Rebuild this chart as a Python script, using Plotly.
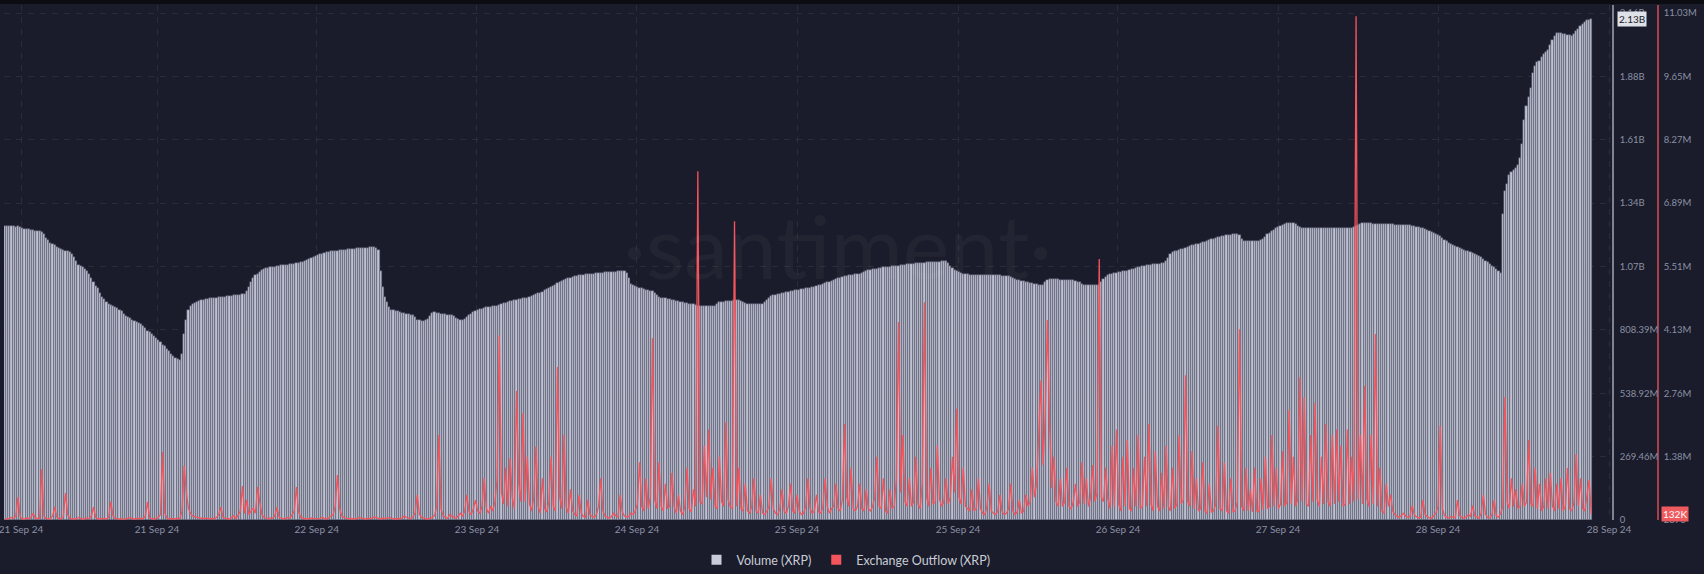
import pandas as pd
import plotly.graph_objects as go

# ---------------- data ----------------
start_time = "2024-09-21 05:15"
bar_interval = "15min"

# Volume (XRP), millions, one value per 15-minute bar
volume_m = [
    1250, 1250, 1252, 1250, 1250, 1248, 1250, 1246, 1240, 1238, 1236, 1236, 1234, 1232, 1230, 1230,
    1228, 1225, 1215, 1200, 1190, 1178, 1172, 1168, 1162, 1158, 1152, 1148, 1146, 1142, 1138, 1132,
    1120, 1100, 1085, 1080, 1075, 1068, 1060, 1045, 1030, 1010, 995, 985, 965, 950, 938, 928,
    920, 915, 910, 905, 900, 895, 888, 878, 868, 862, 858, 852, 846, 840, 836, 832,
    825, 815, 805, 798, 790, 782, 775, 765, 755, 745, 738, 728, 718, 708, 698, 690,
    685, 680, 705, 790, 850, 892, 910, 918, 922, 926, 930, 934, 936, 938, 940, 942,
    944, 945, 946, 948, 948, 950, 950, 952, 953, 954, 955, 956, 957, 958, 960, 962,
    975, 990, 1010, 1030, 1040, 1048, 1055, 1062, 1068, 1070, 1072, 1074, 1076, 1078, 1080, 1082,
    1083, 1084, 1085, 1086, 1088, 1089, 1090, 1092, 1094, 1096, 1098, 1102, 1106, 1110, 1114, 1118,
    1122, 1126, 1130, 1133, 1136, 1138, 1140, 1142, 1143, 1145, 1146, 1147, 1148, 1149, 1150, 1151,
    1152, 1153, 1154, 1155, 1155, 1156, 1157, 1158, 1158, 1159, 1160, 1160, 1158, 1150, 1060, 990,
    950, 925, 905, 895, 892, 890, 888, 885, 882, 880, 877, 875, 873, 870, 862, 852,
    850, 848, 848, 850, 855, 868, 880, 884, 882, 880, 878, 876, 874, 872, 871, 870,
    866, 860, 855, 851, 850, 855, 862, 870, 878, 885, 890, 893, 896, 899, 902, 904,
    905, 906, 908, 910, 912, 915, 918, 921, 924, 927, 930, 932, 934, 936, 938, 940,
    942, 944, 946, 948, 951, 955, 960, 964, 967, 971, 976, 981, 986, 991, 996, 1001,
    1006, 1011, 1016, 1021, 1024, 1027, 1030, 1033, 1036, 1038, 1040, 1041, 1043, 1044, 1045, 1046,
    1047, 1048, 1049, 1050, 1051, 1052, 1053, 1054, 1055, 1055, 1056, 1056, 1057, 1057, 1058, 1058,
    1050, 1030, 1005, 1000, 996, 992, 988, 985, 982, 979, 977, 975, 973, 965, 955, 948,
    946, 944, 942, 940, 938, 936, 934, 932, 930, 928, 926, 924, 922, 920, 919, 918,
    914, 912, 910, 910, 910, 910, 910, 910, 911, 912, 920, 926, 928, 929, 930, 931,
    932, 933, 934, 935, 935, 930, 925, 921, 919, 918, 918, 918, 918, 918, 919, 920,
    925, 935, 945, 952, 955, 958, 960, 962, 964, 966, 968, 970, 972, 974, 976, 978,
    980, 982, 984, 985, 986, 988, 990, 992, 995, 998, 1000, 1003, 1006, 1010, 1014, 1018,
    1022, 1025, 1028, 1031, 1034, 1036, 1038, 1040, 1042, 1043, 1044, 1045, 1048, 1052, 1056, 1060,
    1063, 1065, 1066, 1068, 1069, 1071, 1072, 1074, 1075, 1076, 1078, 1079, 1080, 1081, 1082, 1084,
    1085, 1086, 1087, 1088, 1089, 1090, 1091, 1092, 1093, 1094, 1095, 1096, 1096, 1097, 1098, 1098,
    1099, 1099, 1100, 1100, 1100, 1095, 1080, 1070, 1063, 1058, 1054, 1050, 1047, 1045, 1044, 1043,
    1042, 1042, 1041, 1041, 1041, 1041, 1041, 1040, 1040, 1040, 1040, 1040, 1040, 1040, 1039, 1039,
    1038, 1037, 1034, 1030, 1026, 1022, 1020, 1018, 1015, 1012, 1010, 1008, 1006, 1004, 1002, 1000,
    999, 1000, 1010, 1020, 1024, 1024, 1024, 1023, 1023, 1022, 1022, 1021, 1021, 1020, 1020, 1020,
    1018, 1014, 1010, 1005, 1001, 999, 999, 998, 998, 998, 999, 1000, 1010, 1025, 1035, 1042,
    1045, 1047, 1049, 1051, 1053, 1055, 1057, 1059, 1061, 1063, 1066, 1069, 1072, 1075, 1078, 1080,
    1082, 1084, 1085, 1086, 1087, 1088, 1089, 1090, 1091, 1092, 1100, 1115, 1130, 1139, 1142, 1145,
    1148, 1151, 1154, 1156, 1160, 1164, 1168, 1170, 1172, 1175, 1178, 1181, 1184, 1187, 1190, 1193,
    1196, 1199, 1202, 1204, 1206, 1208, 1210, 1212, 1214, 1216, 1217, 1218, 1210, 1195, 1188, 1186,
    1185, 1185, 1186, 1186, 1187, 1188, 1190, 1195, 1205, 1216, 1222, 1228, 1234, 1240, 1245, 1250,
    1254, 1258, 1262, 1264, 1264, 1262, 1258, 1250, 1244, 1241, 1240, 1240, 1240, 1241, 1241, 1241,
    1241, 1241, 1241, 1241, 1240, 1240, 1240, 1240, 1240, 1240, 1241, 1241, 1241, 1241, 1242, 1242,
    1243, 1244, 1250, 1256, 1260, 1262, 1262, 1262, 1261, 1261, 1260, 1260, 1260, 1259, 1259, 1258,
    1258, 1258, 1257, 1257, 1256, 1256, 1255, 1255, 1254, 1254, 1254, 1253, 1252, 1250, 1248, 1245,
    1242, 1240, 1237, 1234, 1230, 1226, 1222, 1218, 1214, 1208, 1200, 1192, 1185, 1178, 1172, 1168,
    1165, 1160, 1156, 1152, 1148, 1145, 1142, 1139, 1136, 1132, 1128, 1124, 1118, 1110, 1102, 1096,
    1090, 1082, 1074, 1066, 1058, 1052, 1300, 1400, 1430, 1465, 1478, 1490, 1496, 1510, 1540, 1600,
    1700, 1760, 1800, 1836, 1900, 1930, 1946, 1950, 1970, 1980, 1990, 1998, 2020, 2040, 2058, 2070,
    2072, 2070, 2066, 2066, 2064, 2062, 2060, 2068, 2080, 2090, 2100, 2110, 2118, 2125, 2128, 2130,
]

# Exchange Outflow (XRP), thousands, one value per 15-minute bar
outflow_k = [
    30, 25, 40, 60, 35, 90, 500, 70, 30, 25, 45, 30, 60, 150, 40, 30,
    35, 1110, 80, 40, 30, 25, 90, 280, 60, 35, 30, 70, 590, 120, 40, 30,
    25, 30, 60, 40, 20, 35, 50, 30, 90, 280, 60, 30, 25, 40, 35, 30,
    60, 400, 90, 40, 30, 25, 35, 20, 30, 45, 60, 30, 25, 40, 30, 35,
    30, 90, 400, 50, 30, 25, 40, 60, 120, 1480, 150, 40, 30, 25, 35, 30,
    40, 30, 200, 1180, 590, 250, 140, 90, 70, 60, 50, 40, 30, 45, 35, 30,
    40, 30, 60, 120, 280, 60, 40, 30, 25, 60, 90, 30, 120, 200, 740, 140,
    435, 120, 200, 260, 150, 720, 400, 120, 60, 40, 30, 50, 40, 90, 280, 60,
    40, 30, 35, 60, 40, 120, 200, 720, 180, 60, 40, 30, 25, 35, 50, 30,
    30, 25, 40, 60, 35, 30, 50, 90, 120, 300, 980, 260, 90, 60, 40, 30,
    35, 30, 25, 40, 60, 45, 30, 25, 35, 30, 40, 70, 50, 30, 25, 40,
    30, 45, 60, 40, 30, 25, 35, 30, 50, 90, 60, 40, 30, 70, 150, 550,
    120, 60, 40, 30, 25, 40, 60, 100, 300, 1850, 250, 90, 60, 40, 120, 80,
    60, 40, 90, 150, 80, 200, 550, 180, 120, 250, 435, 200, 150, 300, 920, 260,
    150, 300, 200, 400, 900, 4020, 600, 350, 1140, 300, 1350, 500, 250, 2810, 800, 400,
    2330, 400, 1380, 350, 200, 500, 1600, 300, 150, 910, 250, 180, 400, 1380, 300, 200,
    3330, 500, 250, 1850, 300, 150, 670, 200, 120, 90, 550, 150, 80, 60, 435, 120,
    80, 60, 120, 300, 910, 200, 90, 60, 40, 80, 150, 100, 60, 550, 180, 90,
    60, 80, 150, 120, 200, 350, 1260, 300, 200, 910, 250, 500, 3960, 450, 250, 1260,
    300, 200, 790, 250, 300, 1030, 300, 150, 550, 200, 120, 300, 1140, 250, 180, 670,
    300, 7590, 400, 350, 1620, 500, 1970, 450, 1140, 300, 250, 1380, 400, 300, 2130, 450,
    300, 250, 6500, 300, 1140, 250, 200, 790, 200, 150, 300, 910, 200, 150, 553, 150,
    120, 200, 300, 910, 250, 150, 120, 250, 670, 200, 150, 300, 790, 200, 150, 550,
    200, 120, 150, 300, 910, 250, 150, 200, 550, 180, 150, 300, 910, 300, 150, 250,
    300, 790, 250, 200, 450, 2090, 500, 300, 1140, 250, 200, 300, 790, 250, 200, 670,
    250, 200, 300, 500, 1380, 300, 250, 910, 200, 150, 670, 250, 300, 900, 4310, 600,
    1850, 400, 300, 910, 300, 400, 1380, 350, 250, 800, 4740, 500, 300, 1140, 350, 400,
    1620, 450, 300, 400, 910, 350, 500, 1380, 600, 2420, 500, 350, 1140, 300, 250, 200,
    670, 200, 250, 910, 250, 150, 120, 300, 790, 200, 150, 120, 200, 550, 180, 120,
    150, 250, 790, 200, 120, 180, 435, 150, 200, 550, 300, 400, 1140, 500, 800, 1850,
    3040, 1200, 2330, 4350, 2090, 700, 1380, 400, 300, 910, 300, 400, 1140, 300, 250, 400,
    790, 300, 400, 1260, 350, 910, 300, 500, 1200, 400, 600, 5680, 500, 400, 1140, 450,
    250, 1620, 300, 1970, 350, 200, 1380, 300, 1740, 250, 200, 1140, 300, 1850, 250, 300,
    1380, 300, 2090, 350, 200, 1500, 300, 200, 1030, 250, 1620, 300, 200, 1140, 250, 350,
    1850, 350, 450, 3150, 400, 300, 1500, 250, 910, 200, 250, 1260, 200, 150, 790, 180,
    200, 350, 2050, 250, 200, 1260, 200, 150, 910, 180, 200, 400, 4150, 300, 200, 1140,
    200, 670, 180, 1140, 200, 180, 910, 220, 1380, 250, 300, 1850, 300, 1140, 250, 350,
    1500, 300, 400, 2400, 350, 1380, 300, 450, 3110, 400, 2680, 350, 300, 1850, 400, 2550,
    450, 300, 1380, 350, 2090, 400, 300, 1850, 350, 1970, 400, 1620, 300, 350, 1970, 350,
    1380, 400, 10960, 450, 1850, 350, 2920, 450, 300, 1850, 350, 4050, 300, 1140, 200, 150,
    790, 300, 553, 200, 120, 80, 60, 100, 150, 90, 60, 80, 318, 120, 70, 50,
    60, 435, 120, 80, 50, 40, 90, 150, 300, 2050, 250, 100, 60, 40, 80, 60,
    50, 435, 100, 60, 40, 70, 120, 80, 318, 100, 60, 40, 150, 553, 120, 60,
    50, 120, 435, 90, 60, 150, 300, 2680, 400, 250, 910, 300, 670, 250, 300, 790,
    300, 400, 1740, 350, 300, 1140, 250, 790, 200, 300, 910, 250, 1030, 300, 200, 790,
    250, 910, 200, 300, 1140, 250, 200, 400, 1440, 300, 910, 250, 200, 553, 870, 132,
]

vol_tickvals = [0, 269.46, 538.92, 808.39, 1077.85, 1347.31, 1616.77, 1886.23, 2155.69]
vol_ticktext = ["0", "269.46M", "538.92M", "808.39M", "1.07B", "1.34B", "1.61B", "1.88B", "2.16B"]
out_tickvals = [2.87, 1381.26, 2759.65, 4138.04, 5516.43, 6894.82, 8273.21, 9651.60, 11029.99]
out_ticktext = ["2870", "1.38M", "2.76M", "4.13M", "5.51M", "6.89M", "8.27M", "9.65M", "11.03M"]
x_tick_times = ["2024-09-21 07:06", "2024-09-21 22:51", "2024-09-22 17:22", "2024-09-23 11:55",
                "2024-09-24 06:27", "2024-09-25 01:00", "2024-09-25 19:39", "2024-09-26 14:10",
                "2024-09-27 08:43", "2024-09-28 03:15", "2024-09-28 23:04"]
x_tick_text = ["21 Sep 24", "21 Sep 24", "22 Sep 24", "23 Sep 24", "24 Sep 24", "25 Sep 24",
               "25 Sep 24", "26 Sep 24", "27 Sep 24", "28 Sep 24", "28 Sep 24"]

assert len(volume_m) == len(outflow_k)

# ---------------- styling ----------------
W, H = 1704, 574
ML, MR, MT, MB = 4, 10, 5, 54
PW, PH = W - ML - MR, H - MT - MB
BG = "#1a1c2b"
BAR = "#bfc2d2"
BAR_EDGE = "#4a4e63"
RED = "#f4545c"
TICK = "#8b90a3"
FONT = "Lato, Inter, sans-serif"


def px_x(px):
    return (px - ML) / PW


def px_y(py):
    return (H - MB - py) / PH


times = pd.date_range(start_time, periods=len(volume_m), freq=bar_interval)

fig = go.Figure()
fig.add_trace(go.Bar(x=times, y=volume_m, name="Volume (XRP)", showlegend=False,
                     marker=dict(color=BAR, line=dict(width=0.5, color=BAR_EDGE)), yaxis="y"))
fig.add_trace(go.Scatter(x=times, y=outflow_k, name="Exchange Outflow (XRP)", showlegend=False,
                         mode="lines", line=dict(color=RED, width=1.3), yaxis="y2"))
# legend entries (square swatches)
fig.add_trace(go.Scatter(x=[None], y=[None], mode="markers", name="Volume (XRP)",
                         marker=dict(symbol="square", size=10, color="#c8cbd8")))
fig.add_trace(go.Scatter(x=[None], y=[None], mode="markers", name="Exchange Outflow (XRP)",
                         marker=dict(symbol="square", size=10, color=RED), yaxis="y2"))

grid = dict(showgrid=True, gridcolor="rgba(255,255,255,0.07)", griddash="6px,6px", gridwidth=1)

x_end = (pd.Timestamp(start_time) + pd.Timedelta(minutes=15 * 744.6))
x_start = (pd.Timestamp(start_time) - pd.Timedelta(minutes=7.5))

fig.update_layout(
    width=W, height=H,
    margin=dict(l=ML, r=MR, t=MT, b=MB, autoexpand=False),
    paper_bgcolor=BG, plot_bgcolor=BG,
    bargap=0,
    font=dict(family=FONT, color=TICK, size=10),
    xaxis=dict(domain=[0, px_x(1612)], type="date", range=[x_start, x_end],
               tickvals=x_tick_times, ticktext=x_tick_text, ticks="",
               tickfont=dict(size=10, color=TICK), zeroline=False, showline=False,
               ticklabeloverflow="allow", automargin=False, ticklabelstandoff=2, **grid),
    yaxis=dict(side="right", anchor="x", range=[0, 2190], tickvals=vol_tickvals,
               ticktext=vol_ticktext, ticks="", showline=True, linecolor="#7d8294",
               linewidth=1.5, zeroline=False, tickfont=dict(size=9.5, color=TICK),
               automargin=False, ticklabelstandoff=4, **grid),
    yaxis2=dict(side="right", overlaying="y", anchor="free", position=px_x(1658),
                range=[2.87, 11204], tickvals=out_tickvals, ticktext=out_ticktext,
                ticks="", showline=True, linecolor="#a8404a", linewidth=1.5,
                showgrid=False, zeroline=False, tickfont=dict(size=9.5, color=TICK),
                automargin=False, ticklabelstandoff=3),
    legend=dict(orientation="h", x=px_x(846), xanchor="center", y=px_y(560), yanchor="middle",
                font=dict(size=12.5, color="#c9ccd6", family=FONT), bgcolor="rgba(0,0,0,0)",
                itemsizing="trace"),
    shapes=[dict(type="rect", xref="paper", yref="paper", x0=-0.01, x1=1.01,
                 y0=px_y(4), y1=px_y(-1), fillcolor="#0c0d13", line=dict(width=0), layer="above")],
    annotations=[
        dict(text="·santiment·", xref="paper", yref="paper", x=px_x(837), y=px_y(245),
             xanchor="center", yanchor="middle", showarrow=False,
             font=dict(size=88, color="rgba(255,255,255,0.035)", family=FONT)),
        dict(text=f"{volume_m[-1] / 1000:.2f}B", xref="paper", yref="y", x=px_x(1617),
             y=volume_m[-1], xanchor="left", yanchor="middle", showarrow=False,
             bgcolor="#dfe1e8", borderpad=1, font=dict(size=10, color="#1b1d2b", family=FONT)),
        dict(text=f"{outflow_k[-1]}K", xref="paper", yref="y2", x=px_x(1661),
             y=outflow_k[-1], xanchor="left", yanchor="middle", showarrow=False,
             bgcolor="#ef5a5f", borderpad=1, font=dict(size=10, color="#ffffff", family=FONT)),
    ],
)

fig.write_html("out.html", config={"displayModeBar": False},
               post_script="document.body.style.margin='0';document.body.style.overflow='hidden';")
